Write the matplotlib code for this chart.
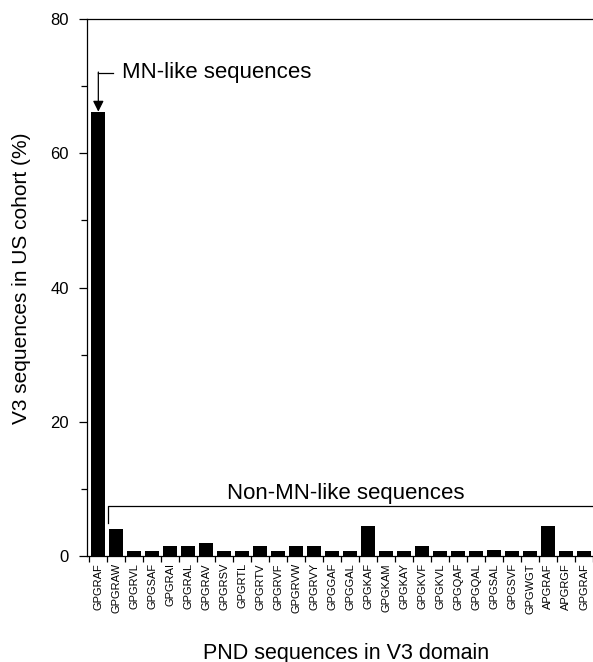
# PND sequence distribution in the US cohort
import matplotlib.pyplot as plt

plt.rcParams['font.family'] = ['Liberation Sans', 'DejaVu Sans']

sequences = ["GPGRAF", "GPGRAW", "GPGRVL", "GPGSAF", "GPGRAI", "GPGRAL", "GPGRAV",
             "GPGRSV", "GPGRTL", "GPGRTV", "GPGRVF", "GPGRVW", "GPGRVY", "GPGGAF",
             "GPGGAL", "GPGKAF", "GPGKAM", "GPGKAY", "GPGKVF", "GPGKVL", "GPGQAF",
             "GPGQAL", "GPGSAL", "GPGSVF", "GPGWGT", "APGRAF", "APGRGF", "GPGRAF"]
percent = [66.2, 4.0, 0.8, 0.8, 1.5, 1.5, 2.0, 0.8, 0.8, 1.5, 0.8, 1.5, 1.5, 0.8,
           0.8, 4.5, 0.8, 0.8, 1.5, 0.8, 0.8, 0.8, 0.9, 0.8, 0.8, 4.5, 0.8, 0.8]

fig = plt.figure(figsize=(5.93, 6.62), dpi=100)
ax = fig.add_axes([0.1467, 0.160, 0.8533, 0.8113])

x = list(range(len(sequences)))
ax.bar(x, percent, width=0.76, color="black")

ax.set_xlim(-0.63, 26.96)
ax.set_ylim(0, 80)
ax.spines["right"].set_visible(False)
for s in ["left", "top", "bottom"]:
    ax.spines[s].set_linewidth(0.9)

ax.set_yticks([0, 20, 40, 60, 80])
ax.set_yticks([10, 30, 50, 70], minor=True)
ax.tick_params(axis="y", which="major", labelsize=12, length=6, width=0.9, pad=7)
ax.tick_params(axis="y", which="minor", length=4, width=0.9)

ax.set_xticks(x)
ax.set_xticklabels(sequences, rotation=90, fontsize=8)
ax.set_xticks([i + 0.5 for i in range(-1, len(sequences))], minor=True)
ax.tick_params(axis="x", which="major", length=0, pad=5)
ax.tick_params(axis="x", which="minor", length=4, width=0.9)

fig.text(22 / 593, 1 - 278 / 662, "V3 sequences in US cohort (%)", fontsize=15,
         rotation=90, ha="center", va="center")
fig.text(346 / 593, 1 - 653 / 662, "PND sequences in V3 domain", fontsize=15.5,
         ha="center", va="center")

# MN-like bracket with arrow
ax.plot([0, 0.8], [72, 72], color="black", lw=0.9)
ax.annotate("", xy=(0, percent[0]), xytext=(0, 72.1),
            arrowprops=dict(arrowstyle="-|>", color="black", lw=0.9,
                            mutation_scale=16, shrinkA=0, shrinkB=0))
ax.text(1.34, 72, "MN-like sequences", fontsize=16, va="center", ha="left")

# Non-MN-like bracket
ax.plot([0.52, 0.52, 27.5], [4.9, 7.45, 7.45], color="black", lw=0.9, clip_on=False)
ax.text(13.75, 9.3, "Non-MN-like sequences", fontsize=16, va="center", ha="center")

plt.savefig("out.png", dpi=100)
